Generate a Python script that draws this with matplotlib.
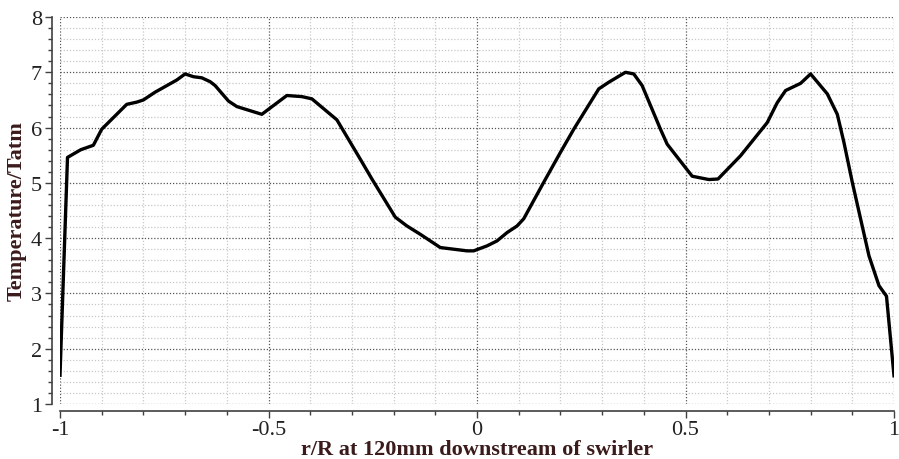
import matplotlib
matplotlib.use("Agg")
import matplotlib.pyplot as plt
from matplotlib.ticker import MultipleLocator

# radial temperature profile, 120 mm downstream of the swirler
r_over_R = [-1.0, -0.982, -0.95, -0.92, -0.90, -0.84, -0.816, -0.80, -0.772,
            -0.72, -0.70, -0.68, -0.66, -0.64, -0.628, -0.596, -0.576,
            -0.516, -0.456, -0.42, -0.396, -0.336, -0.28, -0.252, -0.196,
            -0.168, -0.136, -0.088, -0.056, -0.024, -0.008, 0.024, 0.048,
            0.072, 0.096, 0.112, 0.16, 0.20, 0.232, 0.292, 0.316, 0.356,
            0.376, 0.396, 0.44, 0.456, 0.516, 0.556, 0.578, 0.632, 0.696,
            0.72, 0.74, 0.776, 0.80, 0.84, 0.864, 0.88, 0.90, 0.94, 0.964,
            0.982, 1.0]
temp_ratio = [1.52, 5.46, 5.60, 5.68, 5.97, 6.42, 6.46, 6.50, 6.64,
              6.86, 6.97, 6.92, 6.90, 6.83, 6.76, 6.48, 6.38,
              6.24, 6.58, 6.56, 6.52, 6.14, 5.43, 5.07, 4.38,
              4.22, 4.07, 3.83, 3.80, 3.77, 3.77, 3.86, 3.95,
              4.10, 4.22, 4.35, 5.01, 5.55, 5.97, 6.70, 6.82, 7.0,
              6.97, 6.76, 5.97, 5.70, 5.12, 5.06, 5.07, 5.49, 6.09,
              6.45, 6.67, 6.80, 6.97, 6.61, 6.24, 5.73, 5.01, 3.68, 3.14,
              2.95, 1.51]

plt.rcParams['font.family'] = ['Liberation Serif', 'DejaVu Serif']

fig = plt.figure(figsize=(8.99, 4.6), dpi=100)
ax = fig.add_axes([60 / 899, 55 / 460, 834 / 899, 387 / 460])

ax.plot(r_over_R, temp_ratio, color='black', linewidth=2.4, zorder=3)

ax.set_xlim(-1, 1)
ax.set_ylim(1, 8)
ax.xaxis.set_major_locator(MultipleLocator(0.5))
ax.xaxis.set_minor_locator(MultipleLocator(0.1))
ax.yaxis.set_major_locator(MultipleLocator(1))
ax.yaxis.set_minor_locator(MultipleLocator(0.2))
ax.set_xticks([-1, -0.5, 0, 0.5, 1])
ax.set_xticklabels(['-1', '-0.5', '0', '0.5', '1'])

ax.grid(which='major', color='#555555', linestyle=(0, (1, 1.5)), linewidth=0.9)
ax.grid(which='minor', color='#c8c8c8', linestyle=(0, (1, 1.5)), linewidth=0.9)

for side in ['top', 'right']:
    ax.spines[side].set_visible(False)
ax.spines['left'].set_position(('outward', 6))
ax.spines['bottom'].set_position(('outward', 5))
for side in ['left', 'bottom']:
    ax.spines[side].set_color('#404040')
    ax.spines[side].set_linewidth(1.2)

ax.tick_params(which='major', length=5, width=1, color='#404040',
               labelsize=16, labelcolor='#222222')
ax.tick_params(axis='x', which='major', pad=1.5)
ax.tick_params(axis='y', which='major', pad=2)
ax.tick_params(which='minor', length=3, width=1, color='#404040')

ax.set_xlabel('r/R at 120mm downstream of swirler', fontsize=16,
              fontweight='bold', color='#3a1a1a', labelpad=0)
ax.set_ylabel('Temperature/Tatm', fontsize=16, fontweight='bold',
              color='#3a1a1a', labelpad=3)

fig.savefig('out.png', dpi=100)
